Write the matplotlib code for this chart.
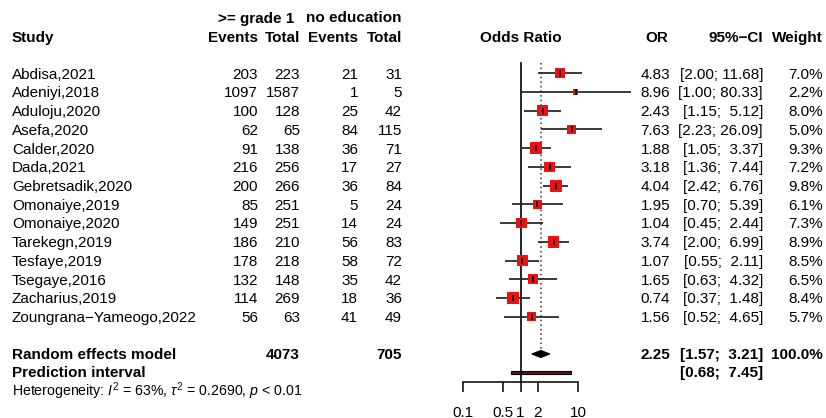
import numpy as np
import matplotlib
matplotlib.use("Agg")
import matplotlib.pyplot as plt
from matplotlib.patches import Polygon, Rectangle
from matplotlib.ticker import FixedLocator, FixedFormatter

plt.rcParams["font.family"] = ["Liberation Sans", "DejaVu Sans"]
plt.rcParams["mathtext.fontset"] = "custom"
plt.rcParams["mathtext.rm"] = "Liberation Sans"
plt.rcParams["mathtext.it"] = "Liberation Sans:italic"

# ---- data ----
studies = ["Abdisa,2021", "Adeniyi,2018", "Aduloju,2020", "Asefa,2020",
           "Calder,2020", "Dada,2021", "Gebretsadik,2020", "Omonaiye,2019",
           "Omonaiye,2020", "Tarekegn,2019", "Tesfaye,2019", "Tsegaye,2016",
           "Zacharius,2019", "Zoungrana\u2212Yameogo,2022"]
events_g1 = [203, 1097, 100, 62, 91, 216, 200, 85, 149, 186, 178, 132, 114, 56]
total_g1 = [223, 1587, 128, 65, 138, 256, 266, 251, 251, 210, 218, 148, 269, 63]
events_noedu = [21, 1, 25, 84, 36, 17, 36, 5, 14, 56, 58, 35, 18, 41]
total_noedu = [31, 5, 42, 115, 71, 27, 84, 24, 24, 83, 72, 42, 36, 49]
odds_ratio = [4.83, 8.96, 2.43, 7.63, 1.88, 3.18, 4.04, 1.95, 1.04, 3.74,
              1.07, 1.65, 0.74, 1.56]
ci_low = [2.00, 1.00, 1.15, 2.23, 1.05, 1.36, 2.42, 0.70, 0.45, 2.00,
          0.55, 0.63, 0.37, 0.52]
ci_high = [11.68, 80.33, 5.12, 26.09, 3.37, 7.44, 6.76, 5.39, 2.44, 6.99,
           2.11, 4.32, 1.48, 4.65]
weight = [7.0, 2.2, 8.0, 5.0, 9.3, 7.2, 9.8, 6.1, 7.3, 8.9, 8.5, 6.5, 8.4, 5.7]

re_total_g1 = 4073
re_total_noedu = 705
re_or, re_low, re_high = 2.25, 1.57, 3.21
pi_low, pi_high = 0.68, 7.45
het_text = r"Heterogeneity: $\mathit{I}^2$ = 63%, $\tau^2$ = 0.2690, $\mathit{p}$ < 0.01"

tick_vals = [0.1, 0.5, 1, 2, 10]
tick_labels = ["0.1", "0.5", "1", "2", "10"]

# ---- layout (pixel units of an 826 x 418 canvas) ----
W, H = 826, 418
FS = 11.0
row0, row_step = 73.3, 18.72
row_y = [row0 + row_step * i for i in range(len(studies))]
re_y, pi_y = 354.0, 372.5
axis_y = 381.7
line_top = 63.0

fig = plt.figure(figsize=(W / 100, H / 100), dpi=100)
tax = fig.add_axes([0, 0, 1, 1])
tax.set_xlim(0, W)
tax.set_ylim(H, 0)
tax.axis("off")

# forest panel: log axis, 0.1 .. 10 spans x = 462.7 .. 578.3 px
x_lo, x_hi = 462.7, 578.3
fax = fig.add_axes([x_lo / W, 0, (x_hi - x_lo) / W, 1])
fax.set_xscale("log")
fax.set_xlim(0.1, 10)
fax.set_ylim(H, 0)
fax.patch.set_visible(False)
for s in ["top", "left", "right"]:
    fax.spines[s].set_visible(False)
fax.spines["bottom"].set_position(("data", axis_y))
fax.spines["bottom"].set_bounds(0.1, 10)
fax.spines["bottom"].set_linewidth(1.1)
fax.set_yticks([])
fax.xaxis.set_major_locator(FixedLocator(tick_vals))
fax.xaxis.set_major_formatter(FixedFormatter(tick_labels))
fax.xaxis.set_minor_locator(FixedLocator([]))
fax.tick_params(axis="x", direction="out", length=7.2, width=1.1, pad=10,
                labelsize=FS)

# reference lines
fax.plot([1, 1], [line_top, axis_y], color="black", lw=1.2, clip_on=False)
fax.plot([re_or, re_or], [line_top, re_y - 3.5], color="#333333", lw=1.1,
         ls=(0, (1, 2.0)), clip_on=False)

# study CIs, weighted squares and point marks
fax.hlines(row_y, ci_low, ci_high, color="#222222", lw=1.25, clip_on=False,
           zorder=2)
side_pt = [3.85 * np.sqrt(w) * 0.72 for w in weight]
fax.scatter(odds_ratio, row_y, s=[sp ** 2 for sp in side_pt], marker="s",
            color="#ee1111", edgecolors="none", clip_on=False, zorder=3)
fax.scatter(odds_ratio, row_y, s=3.8 ** 2, marker="|", color="black",
            linewidths=1.2, clip_on=False, zorder=4)

# pooled diamond
fax.add_patch(Polygon([(re_low, re_y), (re_or, re_y - 3.5), (re_high, re_y),
                       (re_or, re_y + 3.5)], closed=True, facecolor="black",
                      edgecolor="black", lw=0.8, clip_on=False))
# prediction interval bar
fax.add_patch(Rectangle((pi_low, pi_y - 1.8), pi_high - pi_low, 3.6,
                        facecolor="#5a1212", edgecolor="black", lw=0.8,
                        clip_on=False))

# ---- text columns ----
def txt(x, y, s, ha="right", bold=False, size=FS):
    tax.text(x, y, s, ha=ha, va="baseline", fontsize=size,
             fontweight="bold" if bold else "normal")

base = 5.4
col_ev1, col_tot1, col_ev2, col_tot2 = 258, 300, 358, 402
col_or, col_ci, col_w = 670, 763, 823

# headers
txt(256, 22.5, ">= grade 1", ha="center", bold=True)
txt(354, 22.5, "no education", ha="center", bold=True)
txt(12, 42, "Study", ha="left", bold=True)
txt(col_ev1, 42, "Events", bold=True)
txt(col_tot1, 42, "Total", bold=True)
txt(col_ev2, 42, "Events", bold=True)
txt(col_tot2, 42, "Total", bold=True)
txt(520.5, 42, "Odds Ratio", ha="center", bold=True)
txt(668, 42, "OR", bold=True)
txt(col_ci, 42, "95%\u2212CI", bold=True)
txt(col_w, 42, "Weight", bold=True)

for i, y in enumerate(row_y):
    b = y + base
    txt(12, b, studies[i], ha="left")
    txt(col_ev1, b, str(events_g1[i]))
    txt(col_tot1, b, str(total_g1[i]))
    txt(col_ev2, b, str(events_noedu[i]))
    txt(col_tot2, b, str(total_noedu[i]))
    txt(col_or, b, f"{odds_ratio[i]:.2f}")
    txt(col_ci, b, f"[{ci_low[i]:.2f}; {ci_high[i]:5.2f}]")
    txt(col_w, b, f"{weight[i]:.1f}%")

# summary rows
re_base, pi_base = re_y + base, pi_y + 4.5
txt(12, re_base, "Random effects model", ha="left", bold=True)
txt(col_tot1, re_base, str(re_total_g1), bold=True)
txt(col_tot2, re_base, str(re_total_noedu), bold=True)
txt(col_or, re_base, f"{re_or:.2f}", bold=True)
txt(col_ci, re_base, f"[{re_low:.2f}; {re_high:5.2f}]", bold=True)
txt(col_w, re_base, "100.0%", bold=True)
txt(12, pi_base, "Prediction interval", ha="left", bold=True)
txt(col_ci, pi_base, f"[{pi_low:.2f}; {pi_high:5.2f}]", bold=True)
txt(12, 396, het_text, ha="left", size=10.2)

fig.savefig("out.png", dpi=100)
